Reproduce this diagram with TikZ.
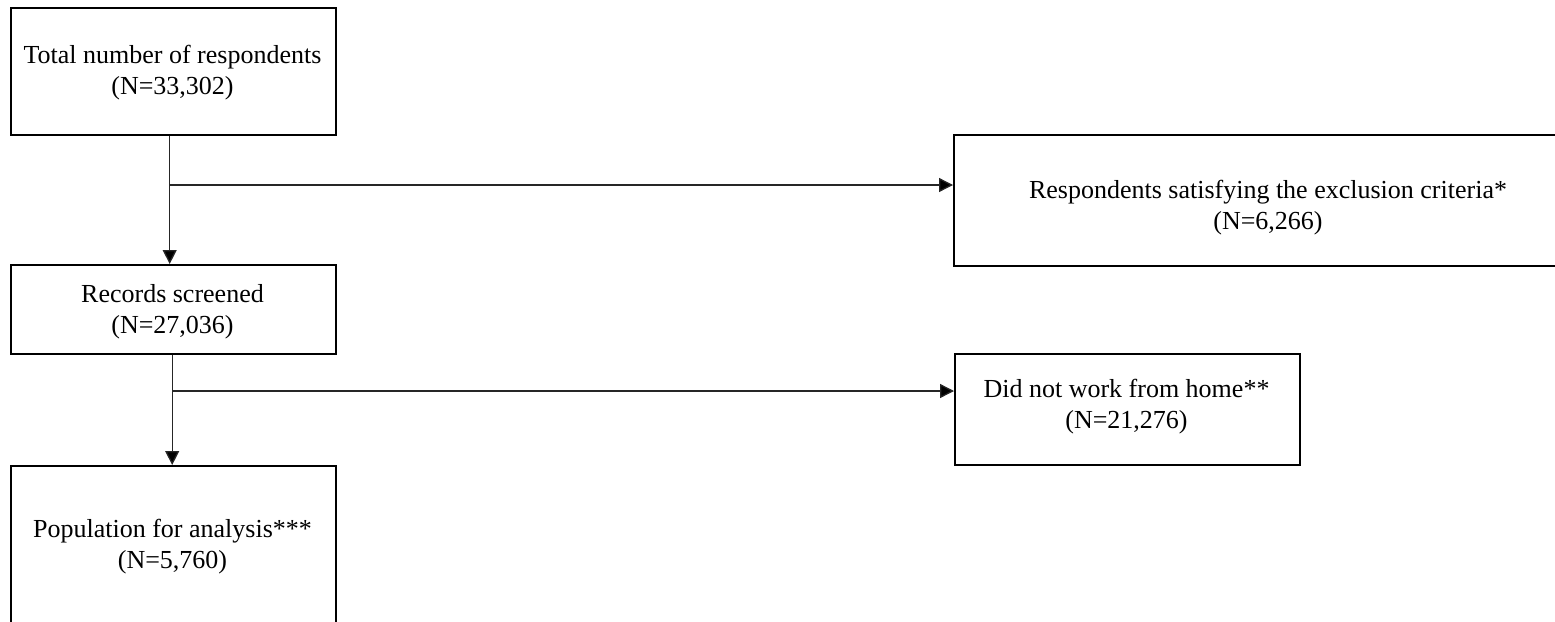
\documentclass[tikz,border=0pt]{standalone}
\usepackage{fontspec}
\setmainfont{Liberation Serif}
\usetikzlibrary{arrows.meta}
\tikzset{
  box/.style={draw=black, line width=2.4pt, anchor=north west, inner sep=0pt},
  lbl/.style={anchor=base, inner sep=0pt, font=\fontsize{26}{31}\selectfont},
  conn/.style={draw=black!85, line width=1.3pt},
  arr/.style={conn, -{Triangle[length=14pt,width=14pt,fill=black]}}
}
\begin{document}
\begin{tikzpicture}[x=1pt,y=-1pt]
\useasboundingbox (0,0) rectangle (1555,621);
\clip (0,0) rectangle (1555,621);
% boxes
\node[box, minimum width=325pt, minimum height=127pt] (b1) at (10,7) {};
\node[box, minimum width=325pt, minimum height=89pt] (b2) at (10,264) {};
\node[box, minimum width=325pt, minimum height=200pt] (b5) at (10,465) {};
\node[box, minimum width=630pt, minimum height=131pt] (b3) at (953,134) {};
\node[box, minimum width=345pt, minimum height=111pt] (b4) at (954,353) {};
% texts
\node[lbl] (t1a) at (172.5,63) {Total number of respondents};
\node[lbl] (t1b) at (172.5,94) {(N=33,302)};
\node[lbl] (t3a) at (1268,198) {Respondents satisfying the exclusion criteria*};
\node[lbl] (t3b) at (1268,229) {(N=6,266)};
\node[lbl] (t2a) at (172.5,302) {Records screened};
\node[lbl] (t2b) at (172.5,333) {(N=27,036)};
\node[lbl] (t4a) at (1126.5,397) {Did not work from home**};
\node[lbl] (t4b) at (1126.5,428) {(N=21,276)};
\node[lbl] (t5a) at (172.5,537) {Population for analysis***};
\node[lbl] (t5b) at (172.5,568) {(N=5,760)};
% connectors
\coordinate (j1) at ([xshift=-4pt]b1.south |- 0,185);
\coordinate (j2) at ([xshift=-1.5pt]b2.south |- 0,391);
\draw[arr] ([xshift=-4pt]b1.south) -- ([xshift=-4pt]b2.north);
\draw[arr] (j1) -- (j1 -| b3.west);
\draw[arr] ([xshift=-1.5pt]b2.south) -- ([xshift=-1.5pt]b5.north);
\draw[arr] (j2) -- (j2 -| b4.west);
\end{tikzpicture}
\end{document}
